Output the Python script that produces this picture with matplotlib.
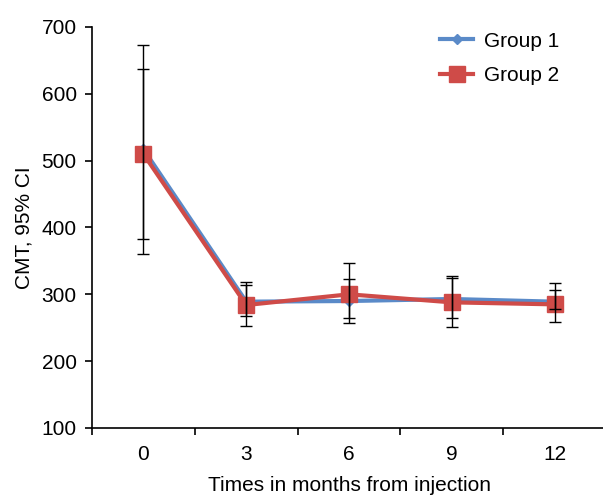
import matplotlib.pyplot as plt
import numpy as np

plt.rcParams['font.family'] = ['Liberation Sans', 'DejaVu Sans']

months = ['0', '3', '6', '9', '12']

g1_mean = [517, 289, 290, 293, 289]
g1_lo   = [360, 253, 265, 251, 259]
g1_hi   = [673, 319, 323, 327, 317]

g2_mean = [510, 284, 300, 288, 285]
g2_lo   = [383, 268, 257, 265, 278]
g2_hi   = [637, 314, 347, 325, 306]

fig = plt.figure(figsize=(6.03, 4.96), dpi=100)
ax = fig.add_axes([0.1526, 0.1371, 0.8524, 0.8085])

x = np.arange(len(months))

ax.plot(x, g1_mean, color='#5A8AC8', lw=3, marker='D', ms=5, label='Group 1', zorder=3)
ax.plot(x, g2_mean, color='#CF4B48', lw=3, marker='s', ms=11, label='Group 2', zorder=4)

# 95% CI bars, black, on top
for m, lo, hi in [(g1_mean, g1_lo, g1_hi), (g2_mean, g2_lo, g2_hi)]:
    m = np.array(m)
    err = [m - np.array(lo), np.array(hi) - m]
    ax.errorbar(x, m, yerr=err, fmt='none', ecolor='black', elinewidth=1,
                capsize=4, capthick=1, zorder=5)

ax.set_xlim(-0.5, len(months) - 0.5)
ax.set_ylim(100, 700)
ax.set_yticks(range(100, 701, 100))

# category axis: ticks sit between categories
ax.set_xticks(np.arange(-0.5, len(months), 1.0))
ax.set_xticklabels([])
ax.set_xticks(x, minor=True)
ax.set_xticklabels(months, minor=True)
ax.tick_params(axis='x', which='minor', length=0, pad=12, labelsize=15)
ax.tick_params(axis='x', which='major', length=5, width=1.2, direction='out')
ax.tick_params(axis='y', length=5, width=1.2, direction='out', labelsize=15, pad=6)

for s in ['top', 'right']:
    ax.spines[s].set_visible(False)
for s in ['left', 'bottom']:
    ax.spines[s].set_linewidth(1.2)

ax.set_xlabel('Times in months from injection', fontsize=15, labelpad=9)
ax.set_ylabel('CMT, 95% CI', fontsize=15, labelpad=6)

ax.legend(loc='upper right', bbox_to_anchor=(0.945, 1.035), frameon=False,
          fontsize=15, handlelength=1.6, labelspacing=0.75, handletextpad=0.5)

fig.savefig('out.png', dpi=100)
